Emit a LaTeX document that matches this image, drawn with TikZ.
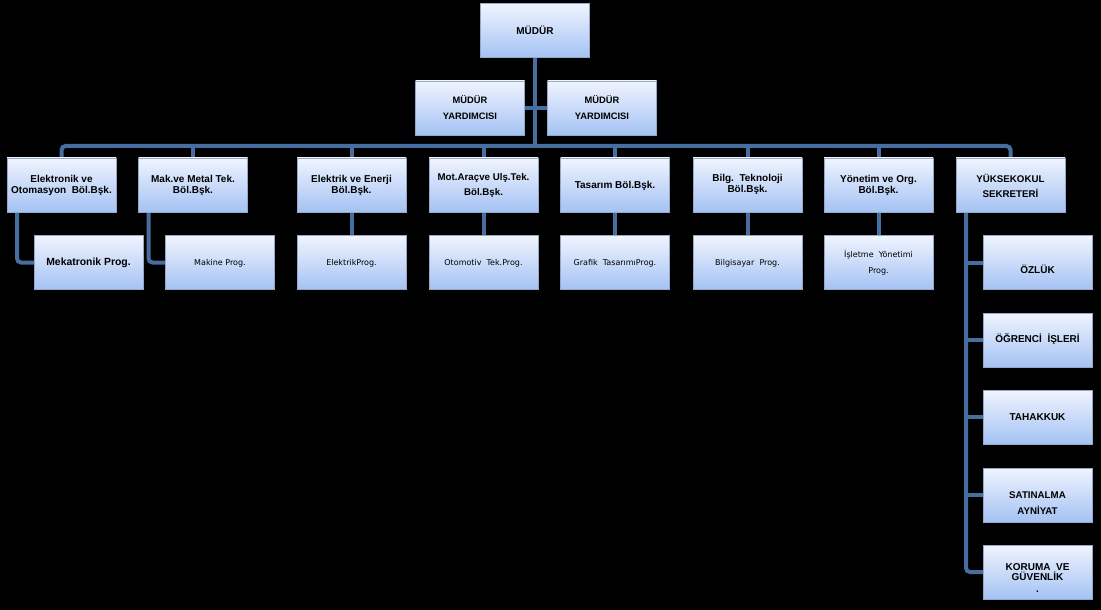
\documentclass[tikz,border=0pt]{standalone}
\usepackage{fontspec}
\setmainfont{Liberation Sans}
\newfontfamily\progfont{DejaVu Sans}
\usetikzlibrary{calc}
\pgfdeclarelayer{bg}
\pgfsetlayers{bg,main}
\definecolor{connblue}{RGB}{70,110,160}
\definecolor{boxtop}{RGB}{240,244,254}
\definecolor{boxbot}{RGB}{164,194,244}
\definecolor{boxline}{RGB}{150,168,196}
\begin{document}
\begin{tikzpicture}[x=0.75pt,y=-0.75pt,
  box/.style={draw=boxline, line width=0.5pt, top color=boxtop, bottom color=boxbot,
    minimum width=81.75pt, minimum height=40.5pt, inner sep=0pt, outer sep=0pt},
  lbl/.style={font=\bfseries\fontsize{7.5}{8.25}\selectfont, align=center, inner sep=0pt, text=black},
  lblwide/.style={font=\bfseries\fontsize{7.3}{11.4}\selectfont, align=center, inner sep=0pt, text=black},
  plbl/.style={font=\progfont\fontsize{6}{12}\selectfont, align=center, inner sep=0pt, text=black},
  link/.style={draw=connblue, line width=3pt},
]
\useasboundingbox (0,0) rectangle (1101,610);
% boxes
\node[box] (mudur) at (535,30.5) {};
\node[box] (myl) at (470,108) {};
\node[box] (myr) at (602,108) {};
\node[box] (elek) at (61.5,185) {};
\node[box] (mak) at (193,185) {};
\node[box] (elen) at (351.5,185) {};
\node[box] (mot) at (483.5,185) {};
\node[box] (tas) at (615,185) {};
\node[box] (bilg) at (747.5,185) {};
\node[box] (yon) at (878.5,185) {};
\node[box] (yuk) at (1010.5,185) {};
\node[box] (meka) at (88.5,262.5) {};
\node[box] (maki) at (220,262.5) {};
\node[box] (elp) at (351.5,262.5) {};
\node[box] (oto) at (483.5,262.5) {};
\node[box] (graf) at (615,262.5) {};
\node[box] (bilp) at (747.5,262.5) {};
\node[box] (isl) at (878.5,262.5) {};
\node[box] (ozluk) at (1037.5,262.5) {};
\node[box] (ogr) at (1037.5,340) {};
\node[box] (tah) at (1037.5,417) {};
\node[box] (sat) at (1037.5,495) {};
\node[box] (kor) at (1037.5,572) {};
% labels
\node[lbl] (t-mudur) at (535,30) {MÜDÜR};
\node[lblwide, font=\bfseries\fontsize{7}{12}\selectfont] (t-myl) at (470,108) {MÜDÜR\\YARDIMCISI};
\node[lblwide, font=\bfseries\fontsize{7}{12}\selectfont] (t-myr) at (602,108) {MÜDÜR\\YARDIMCISI};
\node[lbl] (t-elek) at (61.5,185.5) {Elektronik ve\\Otomasyon\ \ Böl.Bşk.};
\node[lbl] (t-mak) at (193,185.5) {Mak.ve Metal Tek.\\Böl.Bşk.};
\node[lbl] (t-elen) at (351.5,185.5) {Elektrik ve Enerji\\Böl.Bşk.};
\node[lblwide] (t-mot) at (483.5,185.5) {Mot.Araçve Ulş.Tek.\\Böl.Bşk.};
\node[lbl] (t-tas) at (615,186) {Tasarım\ Böl.Bşk.};
\node[lbl] (t-bilg) at (747.5,184.5) {Bilg.\ \ Teknoloji\\Böl.Bşk.};
\node[lbl] (t-yon) at (878.5,185.5) {Yönetim\ ve Org.\\Böl.Bşk.};
\node[lblwide] (t-yuk) at (1010.5,185.5) {YÜKSEKOKUL\\SEKRETERİ};
\node[lbl, font=\bfseries\fontsize{7.8}{9}\selectfont] (t-meka) at (88.5,263) {Mekatronik Prog.};
\node[plbl] (t-maki) at (220,263) {Makine\ Prog.};
\node[plbl] (t-elp) at (351.5,263) {ElektrikProg.};
\node[plbl] (t-oto) at (483.5,263) {Otomotiv\ \ Tek.Prog.};
\node[plbl] (t-graf) at (615,263) {Grafik\ \ TasarımıProg.};
\node[plbl] (t-bilp) at (747.5,263) {Bilgisayar\ \ Prog.};
\node[plbl] (t-isl) at (878.5,263) {İşletme\ \ Yönetimi\\Prog.};
\node[lbl] (t-ozluk) at (1037.5,269) {ÖZLÜK};
\node[lbl] (t-ogr) at (1037.5,339.5) {ÖĞRENCİ\ \ İŞLERİ};
\node[lbl] (t-tah) at (1037.5,417) {TAHAKKUK};
\node[lblwide, font=\bfseries\fontsize{7.3}{12}\selectfont] (t-sat) at (1037.5,503) {SATINALMA\\AYNİYAT};
\node[lbl, font=\bfseries\fontsize{7.5}{7.6}\selectfont] (t-kor) at (1037.5,572) {KORUMA\ \ VE\\GÜVENLİK};
\node[lbl] (t-kordot) at (1037.5,592) {.};
% connectors
\begin{pgfonlayer}{bg}
\fill[black] (0,0) rectangle (1101,610);
\coordinate (bar) at (535,146);
\draw[link, rounded corners=3pt] (elek.north) -- (elek.north |- bar) -- (yuk.north |- bar) -- (yuk.north);
\draw[link] (mudur.south) -- (mudur.south |- bar);
\draw[link] (myl.east) -- (myr.west);
\foreach \n in {mak,elen,mot,tas,bilg,yon}{
  \draw[link] (\n.north) -- (\n.north |- bar);
}
\draw[link] (elen.south) -- (elp.north);
\draw[link] (mot.south) -- (oto.north);
\draw[link] (tas.south) -- (graf.north);
\draw[link] (bilg.south) -- (bilp.north);
\draw[link] (yon.south) -- (isl.north);
\draw[link, rounded corners=3pt] ($(elek.south west)+(10,0)$) |- (meka.west);
\draw[link, rounded corners=3pt] ($(mak.south west)+(10,0)$) |- (maki.west);
\coordinate (rc) at ($(yuk.south west)+(10,0)$);
\draw[link, rounded corners=3pt] (rc) |- (kor.west);
\foreach \n in {ozluk,ogr,tah,sat}{
  \draw[link] (rc |- \n.west) -- (\n.west);
}
\end{pgfonlayer}
\end{tikzpicture}
\end{document}
